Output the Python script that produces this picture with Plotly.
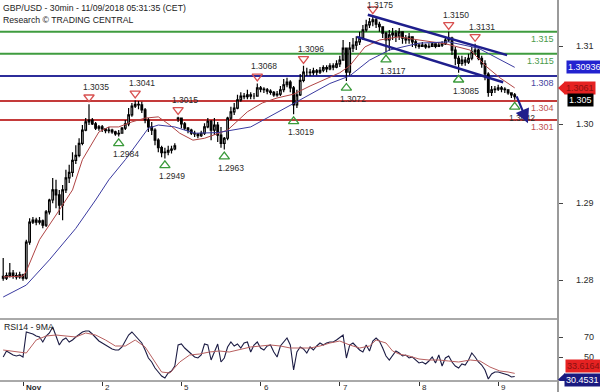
import plotly.graph_objects as go

FONT = "Liberation Sans, Arial, sans-serif"

# ---------------- data ----------------
hours = list(range(-6, 150))   # hourly bars, 0 = 1 Nov 00:00 (weekend removed)

open_ = [1.2762,1.2759,1.2763,1.2767,1.2763,1.2761,1.2764,1.2759,1.2816,1.2848,
         1.2851,1.2848,1.2850,1.2843,1.2864,1.2883,1.2899,1.2891,1.2875,1.2899,
         1.2918,1.2927,1.2946,1.2954,1.2973,1.2994,1.3007,1.3010,1.3004,1.2997,
         1.2999,1.2996,1.2993,1.2994,1.2991,1.2988,1.2989,1.2997,1.3004,1.3018,
         1.3032,1.3035,1.3034,1.3026,1.3010,1.2999,1.2994,1.2978,1.2966,1.2958,
         1.2959,1.2962,1.2964,1.3012,1.3013,1.3004,1.2997,1.2994,1.2989,1.2988,
         1.2985,1.2989,1.2999,1.3008,1.2994,1.3002,1.2986,1.2973,1.2981,1.3013,
         1.3023,1.3029,1.3042,1.3048,1.3047,1.3050,1.3048,1.3048,1.3061,1.3059,
         1.3058,1.3056,1.3054,1.3050,1.3051,1.3058,1.3066,1.3070,1.3061,1.3034,
         1.3050,1.3073,1.3086,1.3086,1.3085,1.3088,1.3086,1.3089,1.3093,1.3091,
         1.3096,1.3094,1.3099,1.3105,1.3124,1.3086,1.3124,1.3129,1.3134,1.3140,
         1.3153,1.3161,1.3166,1.3169,1.3162,1.3158,1.3148,1.3137,1.3145,1.3148,
         1.3143,1.3150,1.3140,1.3137,1.3142,1.3134,1.3129,1.3127,1.3129,1.3126,
         1.3127,1.3131,1.3127,1.3129,1.3131,1.3137,1.3140,1.3121,1.3108,1.3100,
         1.3105,1.3102,1.3108,1.3118,1.3121,1.3108,1.3099,1.3083,1.3054,1.3058,
         1.3059,1.3061,1.3059,1.3058,1.3053,1.3050]
high = [1.2791,1.2768,1.2783,1.2772,1.2768,1.2769,1.2766,1.2820,1.2854,1.2856,
        1.2855,1.2856,1.2852,1.2867,1.2885,1.2918,1.2915,1.2899,1.2907,1.2931,
        1.2939,1.2959,1.2970,1.2981,1.3002,1.3013,1.3035,1.3013,1.3007,1.3002,
        1.3002,1.2997,1.2999,1.2996,1.2993,1.2994,1.2999,1.3010,1.3029,1.3037,
        1.3041,1.3040,1.3039,1.3029,1.3013,1.3007,1.2997,1.2981,1.2969,1.2966,
        1.2969,1.2969,1.2973,1.3015,1.3014,1.3007,1.2999,1.2996,1.2993,1.2989,
        1.2993,1.3005,1.3013,1.3010,1.3013,1.3007,1.2999,1.2983,1.3015,1.3031,
        1.3037,1.3050,1.3054,1.3053,1.3058,1.3054,1.3053,1.3068,1.3064,1.3062,
        1.3061,1.3059,1.3056,1.3056,1.3064,1.3075,1.3077,1.3073,1.3064,1.3058,
        1.3083,1.3096,1.3093,1.3091,1.3093,1.3091,1.3094,1.3097,1.3097,1.3100,
        1.3100,1.3105,1.3112,1.3137,1.3124,1.3134,1.3140,1.3143,1.3150,1.3161,
        1.3169,1.3172,1.3175,1.3172,1.3166,1.3159,1.3150,1.3153,1.3156,1.3153,
        1.3156,1.3150,1.3145,1.3148,1.3143,1.3137,1.3132,1.3134,1.3131,1.3132,
        1.3134,1.3132,1.3134,1.3135,1.3140,1.3150,1.3142,1.3126,1.3112,1.3112,
        1.3110,1.3115,1.3126,1.3131,1.3123,1.3112,1.3105,1.3086,1.3064,1.3064,
        1.3066,1.3064,1.3062,1.3059,1.3054,1.3053]
low = [1.2755,1.2756,1.2760,1.2758,1.2757,1.2758,1.2755,1.2757,1.2812,1.2845,
       1.2843,1.2844,1.2838,1.2840,1.2860,1.2878,1.2870,1.2859,1.2851,1.2894,
       1.2910,1.2920,1.2940,1.2951,1.2970,1.2992,1.3002,1.3002,1.2994,1.2993,
       1.2991,1.2989,1.2989,1.2988,1.2985,1.2984,1.2988,1.2994,1.3000,1.3015,
       1.3029,1.3027,1.3021,1.3005,1.2991,1.2986,1.2970,1.2959,1.2951,1.2949,
       1.2954,1.2957,1.2962,1.3007,1.2997,1.2994,1.2989,1.2986,1.2983,1.2981,
       1.2983,1.2986,1.2997,1.2978,1.2986,1.2975,1.2966,1.2963,1.2978,1.3010,
       1.3018,1.3027,1.3039,1.3043,1.3043,1.3043,1.3043,1.3047,1.3054,1.3053,
       1.3051,1.3050,1.3047,1.3047,1.3048,1.3054,1.3062,1.3054,1.3019,1.3029,
       1.3048,1.3070,1.3080,1.3080,1.3081,1.3081,1.3083,1.3086,1.3086,1.3089,
       1.3089,1.3092,1.3094,1.3105,1.3072,1.3080,1.3118,1.3121,1.3129,1.3137,
       1.3150,1.3156,1.3159,1.3156,1.3150,1.3140,1.3117,1.3120,1.3137,1.3134,
       1.3137,1.3131,1.3131,1.3131,1.3126,1.3124,1.3123,1.3126,1.3123,1.3124,
       1.3126,1.3124,1.3126,1.3126,1.3129,1.3134,1.3113,1.3097,1.3085,1.3096,
       1.3096,1.3099,1.3105,1.3113,1.3105,1.3093,1.3073,1.3047,1.3048,1.3053,
       1.3056,1.3054,1.3053,1.3050,1.3045,1.3042]
close = [1.2759,1.2763,1.2767,1.2763,1.2761,1.2764,1.2759,1.2816,1.2848,1.2851,
         1.2848,1.2850,1.2843,1.2864,1.2883,1.2899,1.2891,1.2875,1.2899,1.2918,
         1.2927,1.2946,1.2954,1.2973,1.2994,1.3007,1.3010,1.3004,1.2997,1.2999,
         1.2996,1.2993,1.2994,1.2991,1.2988,1.2989,1.2997,1.3004,1.3018,1.3032,
         1.3035,1.3034,1.3026,1.3010,1.2999,1.2994,1.2978,1.2966,1.2958,1.2959,
         1.2962,1.2964,1.2969,1.3013,1.3004,1.2997,1.2994,1.2989,1.2988,1.2985,
         1.2989,1.2999,1.3008,1.2994,1.3002,1.2986,1.2973,1.2981,1.3013,1.3023,
         1.3029,1.3042,1.3048,1.3047,1.3050,1.3048,1.3048,1.3061,1.3059,1.3058,
         1.3056,1.3054,1.3050,1.3051,1.3058,1.3066,1.3070,1.3061,1.3034,1.3050,
         1.3073,1.3086,1.3086,1.3085,1.3088,1.3086,1.3089,1.3093,1.3091,1.3096,
         1.3094,1.3099,1.3105,1.3124,1.3086,1.3124,1.3129,1.3134,1.3140,1.3153,
         1.3161,1.3166,1.3169,1.3162,1.3158,1.3148,1.3137,1.3145,1.3148,1.3143,
         1.3150,1.3140,1.3137,1.3142,1.3134,1.3129,1.3127,1.3129,1.3126,1.3127,
         1.3131,1.3127,1.3129,1.3131,1.3137,1.3140,1.3121,1.3108,1.3100,1.3105,
         1.3102,1.3108,1.3118,1.3121,1.3108,1.3099,1.3083,1.3054,1.3058,1.3059,
         1.3061,1.3059,1.3058,1.3053,1.3050,1.3047]

ma_red_h = [-6,0,1,5,11,15,18,21,23,26,29,33,37,41,44.5,47.5,51.5,55,62,68,72.5,77,82,87,
            92,96,99,103.6,108,114,120,128,135.5,140.6,144.5,149]
ma_red = [1.2761,1.2762,1.2770,1.2820,1.2867,1.2899,1.2947,1.2973,1.2991,1.2999,1.2999,
          1.3007,1.3013,1.3015,1.3002,1.2989,1.2978,1.2981,1.2994,1.3023,1.3037,1.3045,
          1.3051,1.3064,1.3075,1.3085,1.3096,1.3126,1.3137,1.3142,1.3137,1.3131,1.3121,
          1.3094,1.3077,1.3061]
ma_blue_h = [-6,1,8,16,22,26,31,35,38,41,46,52,59,69,78,84,93,99,105,111,120,129,138,144,149]
ma_blue = [1.2729,1.2748,1.2788,1.2838,1.2883,1.2915,1.2947,1.2975,1.2997,1.3002,1.2999,
           1.2989,1.2990,1.2999,1.3024,1.3042,1.3068,1.3080,1.3105,1.3121,1.3132,1.3134,
           1.3124,1.3108,1.30936]

rsi = [50,56,54,52,51,52,50,75,74,73,
       71,70,65,71,74,80,71,62,67,69,
       65,67,70,73,75,76,76,73,69,66,
       64,62,60,58,57,57,60,66,72,75,
       71,67,64,57,49,45,39,35,31,29,
       34,36,41,62,63,59,56,52,50,49,
       52,63,62,47,55,63,45,49,60,65,
       61,63,59,64,65,55,62,65,59,57,
       61,62,55,50,61,65,69,62,37,55,
       60,58,54,60,57,61,64,62,64,65,
       65,67,70,72,49,62,64,60,57,55,
       62,56,66,69,66,59,51,47,51,56,
       54,51,52,49,50,47,44,45,43,46,
       50,44,52,41,49,51,45,41,39,43,
       42,47,54,50,45,42,37,28,33,35,
       35,34,33,32,30,30.4531]
rsi_ma_h = [-6,-2,1,4,7,10,13,16,19,22,25,28,31,34,37,40,42,44.5,47.5,50.5,53.5,56.5,59.5,
            62.5,66,69,72,75,78,81,84,87,90,93,96,99,102,105,107,110,112,114,117,120,123,
            126,129,132,135.5,138.5,141.5,144.5,147,149]
rsi_ma = [57,55,54,67,71,72,71,70,74,72,67,61,61,67,60,45,35,34,45,52,53,55,56,
          55,58,60,61,62,61,59,59,59,61,64,66,62,59,61,67,64,56,53,51,48,47,
          47,46,45,47,46,40,36,35,33.6164]

levels = [1.315, 1.3115, 1.308, 1.304, 1.301]
level_text = ["1.315", "1.3115", "1.308", "1.304", "1.301"]
level_kind = ["res", "res", "mid", "sup", "sup"]

pivot_high_h = [20, 34, 47, 71, 85, 106, 129, 137]
pivot_high = [1.3035, 1.3041, 1.3015, 1.3068, 1.3096, 1.3175, 1.3150, 1.3131]
pivot_low_h = [29, 43, 61, 82, 98, 110, 132, 149]
pivot_low = [1.2984, 1.2949, 1.2963, 1.3019, 1.3072, 1.3117, 1.3085, 1.3042]

chan_upper_h, chan_upper = [104.5, 146.7], [1.3177, 1.3113]
chan_lower_h, chan_lower = [101.2, 145.5], [1.3142, 1.3070]
target_from = (149.4, 1.3050)
target_to = (153.0, 1.30047)

day_hours = [0, 24, 48, 72, 96, 120, 144]
day_labels = ["Nov", "2", "5", "6", "7", "8", "9"]
price_tick_labels = ["1.31", "1.30", "1.29", "1.28"]
rsi_ticks = [70, 50]

last_price = 1.305
ma_red_last, ma_blue_last = 1.3061, 1.30936
rsi_last, rsi_ma_last = 30.4531, 33.6164

# ---------------- layout geometry ----------------
W, H = 600, 392
ML, MR, MT, MB = 0, 42, 0, 11
PLOT_H = H - MT - MB            # 381
RSI_H = 62
MAIN_H = PLOT_H - RSI_H         # 319
PRICE_RANGE = [1.26941, 1.32005]
RSI_RANGE = [26, 88]
X_RANGE = [-6.97, 162.12]
PX = MAIN_H / (PRICE_RANGE[1] - PRICE_RANGE[0])
PLOT_W = W - ML - MR
price_tick_rows = [46, 124, 203, 280]
price_tick_pos = [PRICE_RANGE[1] - r / PX for r in price_tick_rows]

GREEN = "#3f9c3f"
NAVY = "#2c2c9a"
RED = "#c43a3a"
TXT = "#2a2a2a"

fig = go.Figure()

fig.add_trace(go.Candlestick(
    x=hours, open=open_, high=high, low=low, close=close,
    increasing=dict(line=dict(color="black", width=1.2), fillcolor="white"),
    decreasing=dict(line=dict(color="black", width=1.2), fillcolor="black"),
    whiskerwidth=0, xaxis="x", yaxis="y", hoverinfo="skip"))

fig.add_trace(go.Scatter(x=ma_red_h, y=ma_red, mode="lines",
                         line=dict(color="#b04444", width=1), xaxis="x", yaxis="y"))
fig.add_trace(go.Scatter(x=ma_blue_h, y=ma_blue, mode="lines",
                         line=dict(color="#3a3aa0", width=1), xaxis="x", yaxis="y"))
for hx, py in [(chan_upper_h, chan_upper), (chan_lower_h, chan_lower)]:
    fig.add_trace(go.Scatter(x=hx, y=py, mode="lines",
                             line=dict(color="#1e1e8c", width=2.5), xaxis="x", yaxis="y"))

# pivot triangles
fig.add_trace(go.Scatter(
    x=pivot_high_h, y=[p + 7 / PX for p in pivot_high], mode="markers",
    marker=dict(symbol="triangle-down-open", size=9, color="#d85050", line=dict(width=1.3)),
    xaxis="x", yaxis="y", cliponaxis=False))
fig.add_trace(go.Scatter(
    x=pivot_low_h, y=[p - 7 / PX for p in pivot_low], mode="markers",
    marker=dict(symbol="triangle-up-open", size=9, color="#3a9a3a", line=dict(width=1.3)),
    xaxis="x", yaxis="y", cliponaxis=False))

# RSI
fig.add_trace(go.Scatter(x=hours, y=rsi, mode="lines",
                         line=dict(color="#1c1c44", width=1.1), xaxis="x2", yaxis="y2"))
fig.add_trace(go.Scatter(x=rsi_ma_h, y=rsi_ma, mode="lines",
                         line=dict(color="#b86060", width=1), xaxis="x2", yaxis="y2"))

shapes = []
ann = []
lvl_col = {"res": GREEN, "mid": NAVY, "sup": RED}
lvl_txt = {"res": "#4a9a4a", "mid": "#4646a0", "sup": "#c05050"}
for v, t, k in zip(levels, level_text, level_kind):
    shapes.append(dict(type="line", xref="paper", yref="y", x0=0, x1=1, y0=v, y1=v,
                       line=dict(color=lvl_col[k], width=2), layer="below"))
    ann.append(dict(x=1, y=v, xref="paper", yref="y", text=t, showarrow=False,
                    xanchor="right", yanchor="middle", xshift=-2, yshift=-7,
                    font=dict(family=FONT, size=9, color=lvl_txt[k])))

# panel frames
rsi_top = RSI_H / PLOT_H
shapes.append(dict(type="line", xref="paper", yref="paper", x0=0, x1=1, y0=rsi_top, y1=rsi_top,
                   line=dict(color="#555555", width=1)))
shapes.append(dict(type="line", xref="paper", yref="paper", x0=0, x1=1, y0=0, y1=0,
                   line=dict(color="#555555", width=1)))
shapes.append(dict(type="line", xref="paper", yref="paper", x0=1, x1=1, y0=-MB / PLOT_H, y1=1,
                   line=dict(color="#9a9a9a", width=2)))

# pivot labels
top_label = max(pivot_high)
for hx, v in zip(pivot_high_h, pivot_high):
    ann.append(dict(x=hx, y=v, xref="x", yref="y", text=f"{v:.4f}", showarrow=False,
                    xshift=7, yshift=(11 if v == top_label else 17),
                    font=dict(family=FONT, size=8.5, color=TXT)))
for hx, v in zip(pivot_low_h, pivot_low):
    ann.append(dict(x=hx, y=v, xref="x", yref="y", text=f"{v:.4f}", showarrow=False,
                    xshift=7, yshift=-18, font=dict(family=FONT, size=8.5, color=TXT)))

# target arrow
ann.append(dict(x=target_to[0], y=target_to[1], ax=target_from[0], ay=target_from[1],
                xref="x", yref="y", axref="x", ayref="y", text="", showarrow=True,
                arrowhead=2, arrowsize=1.3, arrowwidth=2.2, arrowcolor="#1e1e8c"))

# right axis labels
for v, t in zip(price_tick_pos, price_tick_labels):
    ann.append(dict(x=1, y=v, xref="paper", yref="y", text=t, showarrow=False,
                    xanchor="right", xshift=38, font=dict(family=FONT, size=9, color=TXT)))
for v in rsi_ticks:
    ann.append(dict(x=1, y=v, xref="paper", yref="y2", text=str(v), showarrow=False,
                    xanchor="right", xshift=38, font=dict(family=FONT, size=9, color=TXT)))

# date labels
for hx, t in zip(day_hours, day_labels):
    ann.append(dict(x=hx, y=0, xref="x2", yref="paper", text=("<b>%s</b>" % t if t == "Nov" else t),
                    showarrow=False, xanchor="left", yanchor="top", xshift=1, yshift=0,
                    font=dict(family=FONT, size=8, color=TXT)))

# titles
ann.append(dict(x=0, y=1, xref="paper", yref="paper", text="GBP/USD - 30min - 11/09/2018 05:31:35 (CET)",
                showarrow=False, xanchor="left", yanchor="top", xshift=1, yshift=-1,
                font=dict(family=FONT, size=8.7, color="#222222")))
ann.append(dict(x=0, y=1, xref="paper", yref="paper", text="Research \u00a9 TRADING CENTRAL",
                showarrow=False, xanchor="left", yanchor="top", xshift=1, yshift=-13,
                font=dict(family=FONT, size=8.7, color="#222222")))
ann.append(dict(x=0, y=rsi_top, xref="paper", yref="paper", text="RSI14 - 9MA",
                showarrow=False, xanchor="left", yanchor="top", xshift=2, yshift=-1,
                font=dict(family=FONT, size=8.7, color="#222222")))

# value markers on the right
def box(y, yref, text, bg, fg, xshift, yshift=0):
    ann.append(dict(x=1, y=y, xref="paper", yref=yref, text=text, showarrow=False,
                    xanchor="left", yanchor="middle", xshift=xshift, yshift=yshift,
                    bgcolor=bg, borderpad=1, font=dict(family=FONT, size=9, color=fg)))

def pointer(y, yref, color, ppu, yshift=0):
    dx = 7 / PLOT_W
    c = y + yshift / ppu
    hh = 6.5 / ppu
    shapes.append(dict(type="path", xref="paper", yref=yref,
                       path=f"M 1,{c} L {1 + dx},{c + hh} L {1 + dx},{c - hh} Z",
                       fillcolor=color, line=dict(width=0)))

box(ma_blue_last, "y", "1.30936", "#2323d0", "white", 8)
pointer(ma_red_last, "y", "#e62222", PX)
box(ma_red_last, "y", "1.3061", "#e62222", "#8a1010", 6)
box(last_price, "y", "1.305", "black", "white", 9, yshift=-5)
RPX = RSI_H / (RSI_RANGE[1] - RSI_RANGE[0])
box(rsi_ma_last, "y2", "33.6164", "#e62222", "#8a1010", 7, yshift=7)
pointer(rsi_last, "y2", "#1a1a80", RPX, yshift=-3)
box(rsi_last, "y2", "30.4531", "#1a1a80", "white", 6, yshift=-3)

fig.update_layout(
    width=W, height=H, margin=dict(l=ML, r=MR, t=MT, b=MB),
    paper_bgcolor="white", plot_bgcolor="white", showlegend=False,
    shapes=shapes, annotations=ann, hovermode=False,
    xaxis=dict(domain=[0, 1], range=X_RANGE, anchor="y", showgrid=False, zeroline=False,
               showticklabels=False, ticks="", rangeslider=dict(visible=False), fixedrange=True),
    xaxis2=dict(domain=[0, 1], range=X_RANGE, anchor="y2", matches="x", showgrid=False,
                zeroline=False, showticklabels=False, tickvals=day_hours, ticks="outside",
                ticklen=4, tickcolor="#333333", tickwidth=1),
    yaxis=dict(domain=[rsi_top, 1], range=PRICE_RANGE, anchor="x", side="right",
               showgrid=False, zeroline=False, showticklabels=False, tickvals=price_tick_pos,
               ticks="outside", ticklen=4, tickcolor="#444444"),
    yaxis2=dict(domain=[0, rsi_top], range=RSI_RANGE, anchor="x2", side="right",
                showgrid=False, zeroline=False, showticklabels=False, tickvals=rsi_ticks,
                ticks="outside", ticklen=4, tickcolor="#444444"),
)

fig.write_html("out.html")
